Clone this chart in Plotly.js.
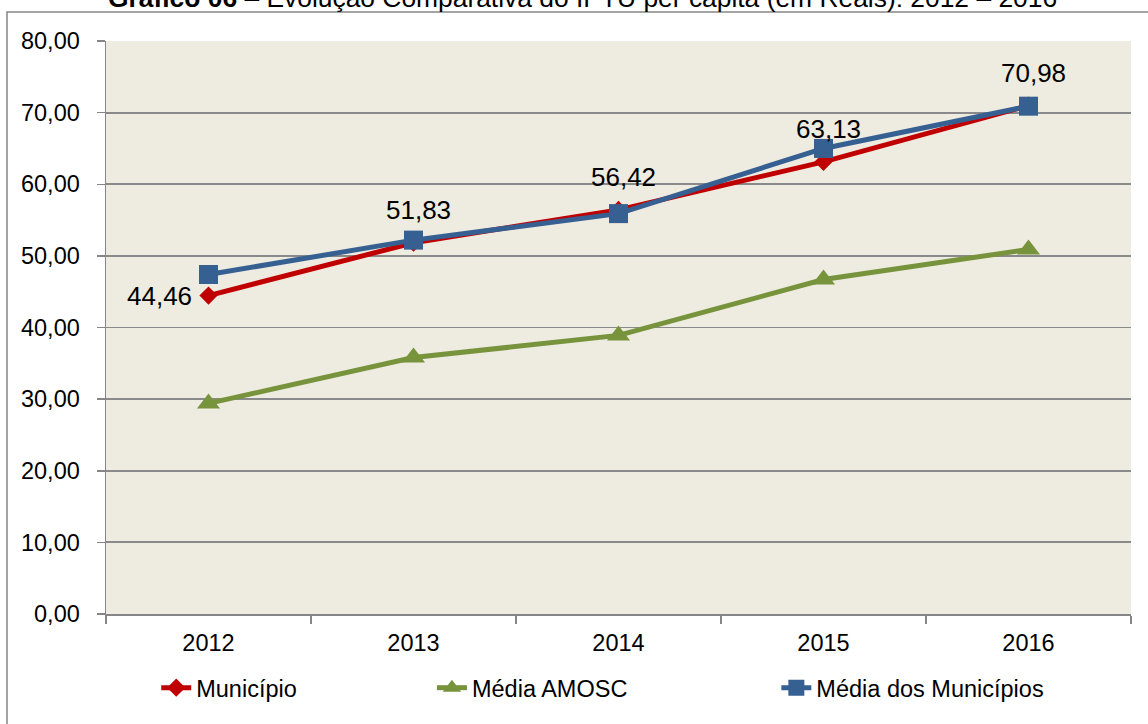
<!DOCTYPE html>
<html>
<head>
<meta charset="utf-8">
<script src="https://cdn.plot.ly/plotly-3.0.1.min.js"></script>
<style>
html,body{margin:0;padding:0;background:#fff;}
#chart{width:1148px;height:724px;}
</style>
</head>
<body>
<div id="chart"></div>
<script>
const years = ['2012', '2013', '2014', '2015', '2016'];
const municipio = [44.46, 51.83, 56.42, 63.13, 70.98];
const mediaAmosc = [29.4, 35.8, 38.9, 46.7, 50.9];
const mediaMunicipios = [47.4, 52.2, 55.9, 65.0, 70.9];
const seriesNames = ['Município', 'Média AMOSC', 'Média dos Municípios'];
const yTicks = [0, 10, 20, 30, 40, 50, 60, 70, 80];
const titleText = '<b>Gráfico 06</b> – Evolução Comparativa do IPTU per capita (em Reais): 2012 – 2016';

const FONT = 'Liberation Sans, Arial, sans-serif';
const FS = 23.5;
const LABEL_FS = 26;
const fmt = v => v.toFixed(2).replace('.', ',');

const traces = [
  {
    x: years, y: municipio, name: seriesNames[0], type: 'scatter', mode: 'lines+markers',
    line: {color: '#C00000', width: 5},
    marker: {symbol: 'diamond', size: 14, color: '#C00000'},
    legend: 'legend'
  },
  {
    x: years, y: mediaAmosc, name: seriesNames[1], type: 'scatter', mode: 'lines+markers',
    line: {color: '#77933C', width: 5},
    marker: {symbol: 'triangle-up', size: 20, color: '#77933C'},
    legend: 'legend2'
  },
  {
    x: years, y: mediaMunicipios, name: seriesNames[2], type: 'scatter', mode: 'lines+markers',
    line: {color: '#376092', width: 5},
    marker: {symbol: 'square', size: 19, color: '#376092'},
    legend: 'legend3'
  }
];

const annotations = municipio.map((v, i) => (i === 0 ? {
  x: i, y: v, xref: 'x', yref: 'y', text: fmt(v), showarrow: false,
  xanchor: 'right', yanchor: 'middle', xshift: -15, yshift: 0,
  font: {family: FONT, size: LABEL_FS, color: '#000'}
} : {
  x: i, y: v, xref: 'x', yref: 'y', text: fmt(v), showarrow: false,
  xanchor: 'center', yanchor: 'middle', xshift: 5, yshift: 33,
  font: {family: FONT, size: LABEL_FS, color: '#000'}
}));

annotations.push({
  xref: 'paper', yref: 'paper', x: 0.465, y: 1.046, xanchor: 'center', yanchor: 'bottom',
  text: titleText, showarrow: false,
  font: {family: FONT, size: 26.4, color: '#000'}
});

const legBase = {
  orientation: 'h', y: -0.129, yanchor: 'middle', xanchor: 'left',
  font: {family: FONT, size: FS, color: '#000'}, bgcolor: 'rgba(0,0,0,0)'
};

const layout = {
  width: 1148, height: 724,
  margin: {l: 106, r: 17, t: 41, b: 110},
  paper_bgcolor: '#ffffff',
  plot_bgcolor: '#EEEBE0',
  separators: ',.',
  font: {family: FONT, size: FS, color: '#000'},
  showlegend: true,
  legend: Object.assign({}, legBase, {x: 0.049}),
  legend2: Object.assign({}, legBase, {x: 0.318}),
  legend3: Object.assign({}, legBase, {x: 0.654}),
  xaxis: {
    type: 'category', range: [-0.5, 4.5],
    showgrid: false, zeroline: false,
    showline: true, linecolor: '#868686', linewidth: 1.5,
    ticks: 'outside', tickson: 'boundaries', ticklen: 8, tickcolor: '#868686', tickwidth: 1.5,
    tickfont: {family: FONT, size: FS, color: '#000'},
    ticklabelstandoff: 7
  },
  yaxis: {
    range: [0, 80], tickvals: yTicks, tickformat: '.2f',
    showgrid: true, gridcolor: '#8A8A8A', gridwidth: 1.8,
    zeroline: false,
    showline: true, linecolor: '#868686', linewidth: 1.5,
    ticks: 'outside', ticklen: 8, tickcolor: '#868686', tickwidth: 1.5,
    tickfont: {family: FONT, size: FS, color: '#000'},
    ticklabelstandoff: 12
  },
  shapes: [{
    type: 'rect', xref: 'paper', yref: 'paper',
    x0: -0.0966, x1: 1.03, y0: -0.25, y1: 1.0506,
    line: {color: '#868686', width: 1.5}, fillcolor: 'rgba(0,0,0,0)', layer: 'below'
  }],
  annotations: annotations
};

Plotly.newPlot('chart', traces, layout, {displayModeBar: false, staticPlot: true});
</script>
</body>
</html>
